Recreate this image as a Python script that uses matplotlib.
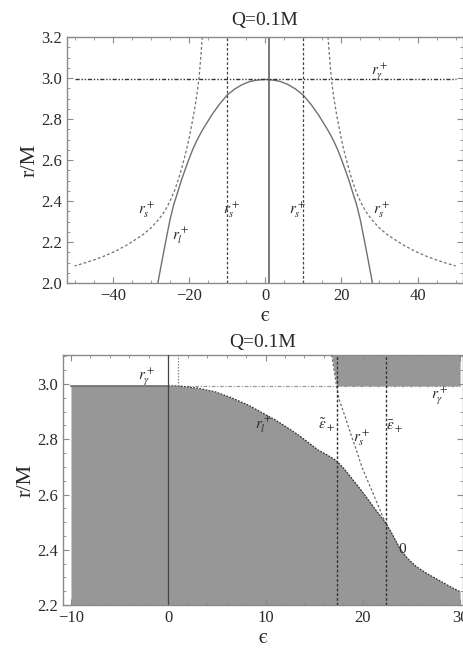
import matplotlib
matplotlib.use("Agg")
import matplotlib.pyplot as plt
from matplotlib.ticker import MultipleLocator, FormatStrFormatter

plt.rcParams['font.family'] = ['Liberation Serif', 'DejaVu Serif']
plt.rcParams['mathtext.fontset'] = 'stix'

# ---------------- data: top panel (eps >= 0, mirrored) ----------------
title_text = "Q=0.1M"
r_gamma = 2.993

rl_eps = [0, 2, 4, 6, 8, 10, 12, 13, 14, 15, 16, 17, 18, 19, 20, 21, 22, 23,
          24, 25, 26, 27, 28.15]
rl_r = [2.993, 2.990, 2.983, 2.968, 2.946, 2.916, 2.872, 2.846, 2.820, 2.790,
        2.760, 2.728, 2.692, 2.652, 2.604, 2.553, 2.500, 2.440, 2.382, 2.306,
        2.212, 2.115, 2.0]

rs_eps = [16.5, 16.8, 17.1, 17.4, 17.8, 18.2, 18.7, 19.3, 20.0, 20.7, 21.4,
          22.2, 23.0, 24.0, 25.0, 26.0, 27.0, 28.5, 30.0, 32.0, 34.0, 36.5,
          39.0, 42.0, 45.0, 47.5, 50.0]
rs_r = [3.2, 3.125, 3.055, 2.994, 2.935, 2.884, 2.828, 2.768, 2.702, 2.645,
        2.595, 2.540, 2.492, 2.440, 2.398, 2.362, 2.333, 2.298, 2.268, 2.237,
        2.212, 2.183, 2.158, 2.133, 2.112, 2.097, 2.083]

top_vlines_dashed = [-10, 10]
top_vline_solid = 1.0
top_gamma_range = [-50, 50]

top_labels = [(r'$r_\gamma^+$', 30.0, 3.03), (r'$r_s^+$', -31.0, 2.355),
              (r'$r_s^+$', -8.8, 2.355), (r'$r_s^+$', 8.6, 2.355),
              (r'$r_s^+$', 30.5, 2.355), (r'$r_l^+$', -22.3, 2.23)]

# ---------------- data: bottom panel ----------------
b_eps = [0, 1.0, 3.0, 4.8, 6.5, 8.2, 9.6, 11.0, 12.2, 13.4, 14.4, 15.4, 16.4,
         17.3, 18.1, 18.85, 19.5, 20.2, 21.2, 22.3, 23.0, 23.8, 24.6, 25.5,
         26.4, 27.2, 28.1, 29.0, 30.0]
b_r = [2.993, 2.993, 2.985, 2.972, 2.950, 2.924, 2.897, 2.870, 2.843, 2.815,
       2.788, 2.761, 2.742, 2.722, 2.692, 2.659, 2.630, 2.598, 2.550, 2.500,
       2.458, 2.405, 2.368, 2.339, 2.318, 2.302, 2.284, 2.266, 2.248]

bs_eps = [16.8, 17.3, 17.6, 18.2, 18.8, 19.3, 19.9, 20.5, 21.1, 21.7, 22.3]
bs_r = [3.105, 2.993, 2.94, 2.88, 2.815, 2.765, 2.70, 2.65, 2.60, 2.55, 2.50]

b_left = -10
b_right = 30
b_vline_solid = 0
b_vline_dotted = 1.0
eps_tilde = 17.3
eps_bar = 22.37

bottom_labels = [(r'$r_\gamma^+$', -2.2, 3.025), (r'$r_\gamma^+$', 27.9, 2.955),
                 (r'$r_l^+$', 9.8, 2.852), (r'$\tilde{ε}_+$', 16.3, 2.852),
                 (r'$r_s^+$', 19.9, 2.803), (r'$\bar{ε}_+$', 23.3, 2.845),
                 ('0', 24.0, 2.40)]

# ---------------- figure ----------------
fig = plt.figure(figsize=(4.64, 6.49), dpi=100)
ax1 = fig.add_axes([67/464, (649-283)/649, (463.3-67)/464, 246/649])
ax2 = fig.add_axes([62.7/464, (649-605)/649, (463-62.7)/464, 250/649])

spine_c = '#8a8a8a'
text_c = '#2a2a2a'
line_c = '#707070'

def style(ax):
    for s in ax.spines.values():
        s.set_color(spine_c)
        s.set_linewidth(1.0)
    ax.tick_params(which='both', direction='in', top=True, right=True,
                   colors=spine_c, labelcolor=text_c, labelsize=12)
    ax.tick_params(which='major', length=4, width=0.8)
    ax.tick_params(which='minor', length=2, width=0.6)

# ---- top panel ----
eL = [-e for e in rl_eps[::-1]] + rl_eps[1:]
rL = rl_r[::-1] + rl_r[1:]
ax1.plot(eL, rL, color=line_c, lw=1.0)
ax1.plot(rs_eps, rs_r, color=line_c, lw=0.9, dashes=(2.2, 1.8))
ax1.plot([-e for e in rs_eps], rs_r, color=line_c, lw=0.9, dashes=(2.2, 1.8))
for v in top_vlines_dashed:
    ax1.axvline(v, color='#444444', lw=0.9, dashes=(2.2, 1.6))
ax1.axvline(top_vline_solid, color='#555555', lw=1.1)
ax1.plot(top_gamma_range, [r_gamma, r_gamma], color='#333333', lw=1.0,
         dashes=(3, 1.3, 1, 1.3, 1, 1.3))
for t, x, y in top_labels:
    ax1.text(x, y, t, fontsize=11, color=text_c, ha='center', va='center')

ax1.set_xlim(-52, 52)
ax1.set_ylim(2.0, 3.2)
ax1.xaxis.set_major_locator(MultipleLocator(20))
ax1.xaxis.set_minor_locator(MultipleLocator(5))
ax1.yaxis.set_major_locator(MultipleLocator(0.2))
ax1.yaxis.set_minor_locator(MultipleLocator(0.05))
ax1.yaxis.set_major_formatter(FormatStrFormatter('%.1f'))
style(ax1)
ax1.set_title(title_text, fontsize=14, color=text_c, pad=9)
ax1.set_ylabel('r/M', fontsize=16, color=text_c, labelpad=1)
ax1.set_xlabel('ϵ', fontsize=15, color=text_c, labelpad=2, family='STIXGeneral')

# ---- bottom panel ----
fill_c = '#979797'
fe = [b_left] + b_eps
fr = [r_gamma] + b_r
ax2.fill_between(fe, 2.2, fr, color=fill_c, lw=0, zorder=1)
ax2.fill_betweenx([bs_r[1], bs_r[0]], [bs_eps[1], bs_eps[0]], b_right,
                  color=fill_c, lw=0, zorder=1)
ax2.plot(b_eps, b_r, color='#333333', lw=0.9, dashes=(1.5, 1.0), zorder=3)
ax2.plot(bs_eps, bs_r, color=line_c, lw=0.9, dashes=(2.0, 1.6), zorder=3)
ax2.plot([b_left, b_right], [r_gamma, r_gamma], color='#9a9a9a', lw=0.9,
         dashes=(3, 1.3, 1, 1.3), zorder=2)
ax2.plot([b_left, b_vline_solid], [r_gamma, r_gamma], color='#6a6a6a', lw=1.2, zorder=2)
ax2.axvline(b_vline_solid, color='#444444', lw=0.9, zorder=3)
ax2.plot([b_vline_dotted, b_vline_dotted], [r_gamma, 3.105], color='#888888',
         lw=0.9, dashes=(1.2, 1.2), zorder=3)
for v in (eps_tilde, eps_bar):
    ax2.axvline(v, color='#333333', lw=1.0, dashes=(2.0, 1.4), zorder=3)
for t, x, y in bottom_labels:
    ax2.text(x, y, t, fontsize=11, color=text_c, ha='center', va='center', zorder=4)

ax2.set_xlim(-10.85, 30.3)
ax2.set_ylim(2.2, 3.105)
ax2.xaxis.set_major_locator(MultipleLocator(10))
ax2.xaxis.set_minor_locator(MultipleLocator(2))
ax2.yaxis.set_major_locator(MultipleLocator(0.2))
ax2.yaxis.set_minor_locator(MultipleLocator(0.05))
ax2.yaxis.set_major_formatter(FormatStrFormatter('%.1f'))
style(ax2)
ax2.set_title(title_text, fontsize=14, color=text_c, pad=6)
ax2.set_ylabel('r/M', fontsize=16, color=text_c, labelpad=1)
ax2.set_xlabel('ϵ', fontsize=15, color=text_c, labelpad=2, family='STIXGeneral')

fig.savefig('out.png', dpi=100)
